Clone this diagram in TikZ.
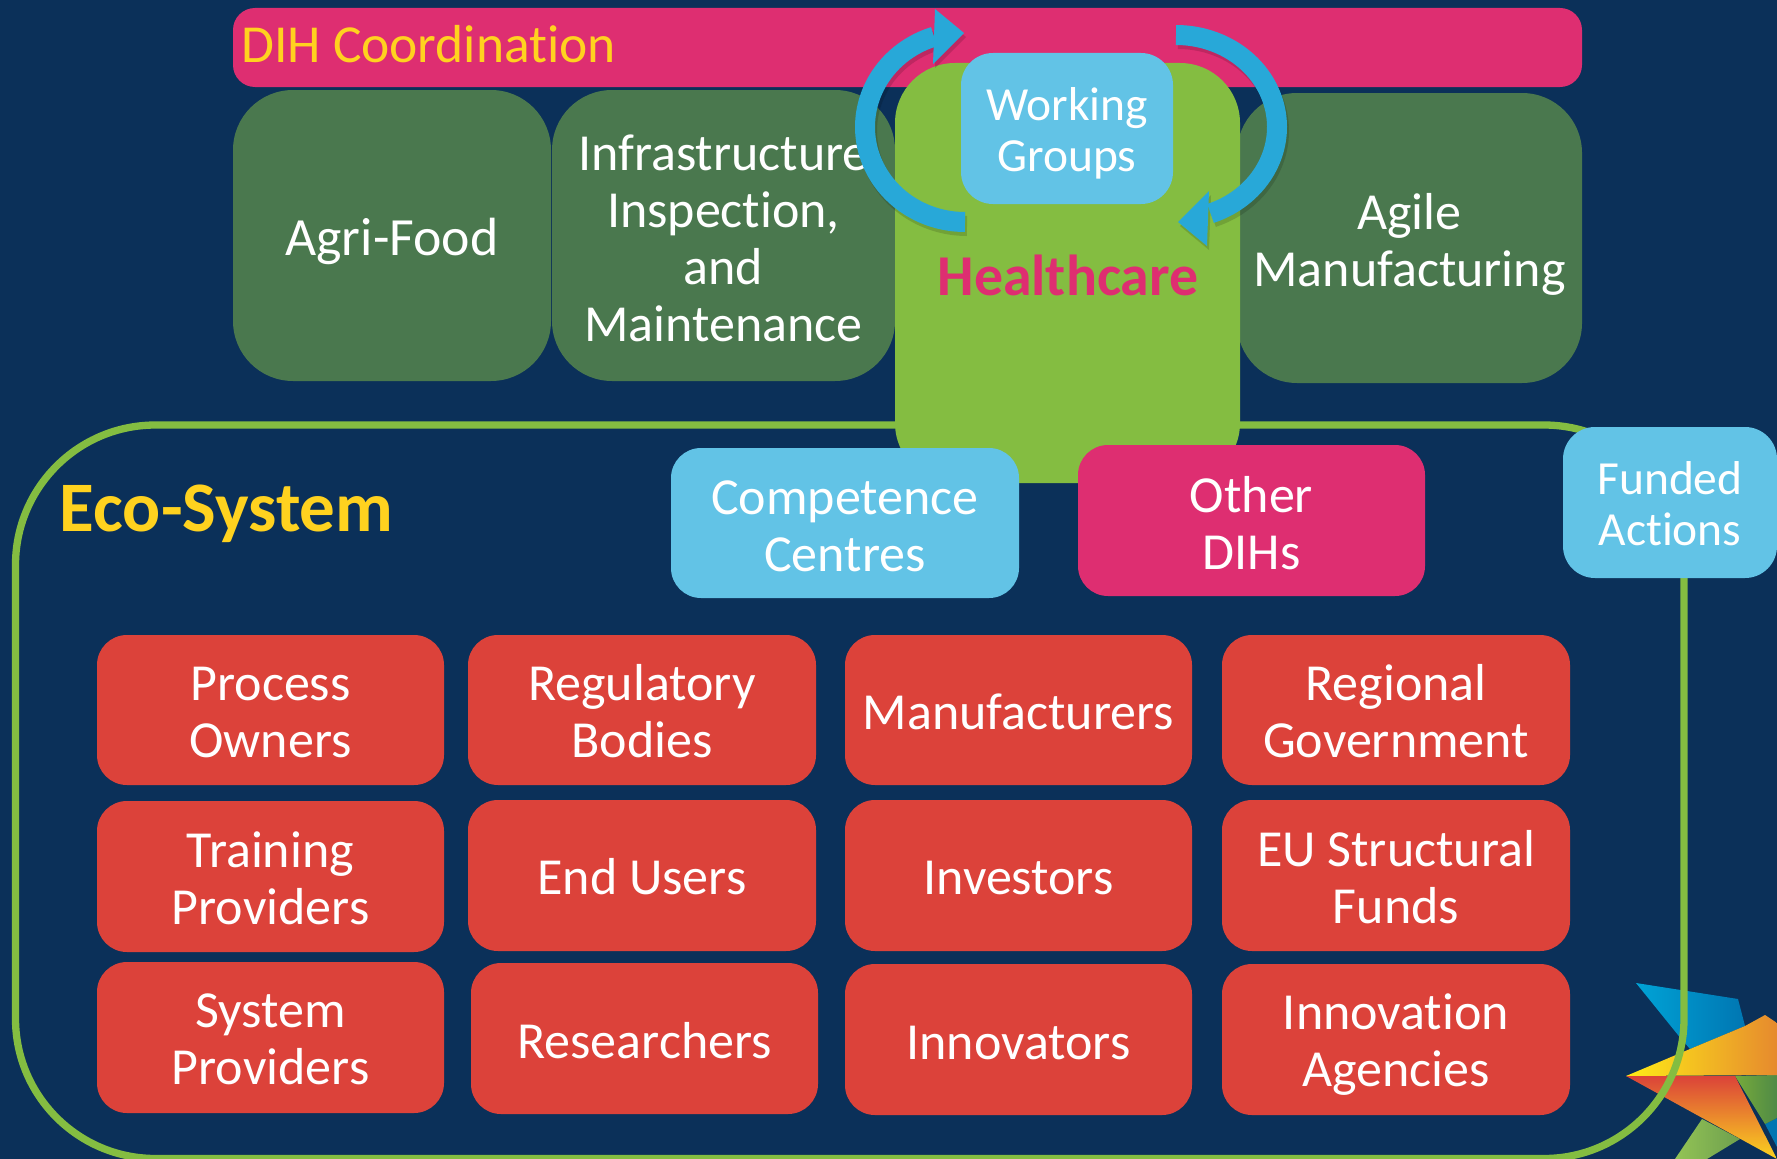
\documentclass[tikz,border=0pt]{standalone}
\usepackage{fontspec}
\setmainfont[Ligatures=NoCommon]{Carlito}
\definecolor{bgnavy}{HTML}{0B3059}
\definecolor{dihpink}{HTML}{DE2E71}
\definecolor{darkgreen}{HTML}{4A784E}
\definecolor{limegreen}{HTML}{84BD41}
\definecolor{skyblue}{HTML}{62C3E6}
\definecolor{boxred}{HTML}{DC423A}
\definecolor{arrowblue}{HTML}{28A8D8}
\definecolor{titleyellow}{HTML}{FFD21F}
\definecolor{logoblueA}{HTML}{00A3D6}
\definecolor{logoblueB}{HTML}{0076B2}
\definecolor{logoyellow}{HTML}{FFEC16}
\definecolor{logomid}{HTML}{F3BF28}
\definecolor{logoorange}{HTML}{E68A2E}
\definecolor{logored}{HTML}{DB4339}
\definecolor{logoredend}{HTML}{FBD31F}
\definecolor{logogreenA}{HTML}{93C455}
\definecolor{logogreenB}{HTML}{6E9F4E}
\definecolor{logogreenC}{HTML}{4F8A46}
\newcommand{\boxlabel}[3][3]{\node[boxtext] (#2text) at ([yshift=-#1 pt]#2.center) {#3};}
\tikzset{
  x=1pt,y=-1pt,
  boxtext/.style={inner sep=0pt,align=center,text=white,font=\fontsize{52}{57}\selectfont},
  basebox/.style={inner sep=0pt},
  sector/.style={basebox,fill=darkgreen,rounded corners=60pt},
  redbox/.style={basebox,fill=boxred,rounded corners=30pt},
  bluebox/.style={basebox,fill=skyblue,rounded corners=30pt},
  smallblue/.style={bluebox,rounded corners=32pt},
  pinkbox/.style={basebox,fill=dihpink,rounded corners=30pt},
  smalltext/.style={boxtext,font=\fontsize{47.5}{50.5}\selectfont},
  cyclearrow/.style={line width=20pt,draw=arrowblue},
  cyclehead/.style={fill=arrowblue},
  cycleshadow/.style={opacity=.14},
}
\newcommand{\sbx}[6]{%
  \pgfmathsetmacro{\bxw}{#4-#2}\pgfmathsetmacro{\bxh}{#5-#3}%
  \pgfmathsetmacro{\bxx}{(#2+#4)/2}\pgfmathsetmacro{\bxy}{(#3+#5)/2}%
  \node[#6,minimum width=\bxw pt,minimum height=\bxh pt] (#1) at (\bxx,\bxy) {};}
\begin{document}
\begin{tikzpicture}
\useasboundingbox (0,0) rectangle (1777,1158.6);
\fill[bgnavy] (-5,-5) rectangle (1785,1170);
% logo
\shade[left color=logoblueA,right color=logoblueB] (1636,983) -- (1738,999) -- (1745,1026) -- (1690,1049) -- (1678,1035) -- cycle;
\fill[logoblueB] (1765,1124) -- (1777,1118) -- (1777,1147) -- cycle;
\shade[left color=logogreenA,right color=logogreenB] (1702,1119) -- (1740,1139) -- (1707,1159) -- (1675,1159) -- cycle;
\shade[left color=limegreen!90!black,right color=logogreenC] (1735,1076) -- (1777,1075) -- (1777,1118) -- (1765,1124) -- cycle;
\shade[top color=logored,bottom color=logoredend] (1626,1076) -- (1735,1076) -- (1777,1159) -- cycle;
\shade[left color=logoyellow,middle color=logomid,right color=logoorange] (1626,1076) -- (1690,1049) -- (1745,1026) -- (1765,1015) -- (1777,1023) -- (1777,1075) -- cycle;
% eco-system ring
\draw[limegreen,line width=7.3pt,rounded corners=140pt] (15.5,425) rectangle (1684,1158.5);
% top band
\sbx{coord}{233}{8}{1582}{87}{pinkbox,rounded corners=22pt}
\node[anchor=west,inner sep=0pt,text=titleyellow,font=\fontsize{53.5}{57}\selectfont] (coordlabel) at (241,44.5) {DIH Coordination};
% sectors
\sbx{agri}{233}{90}{551}{381}{sector}
\node[boxtext,font=\fontsize{53.8}{57}\selectfont] (agritext) at ([yshift=-6pt]agri.center) {Agri-Food};
\sbx{infra}{552}{90}{895}{381}{sector}
\boxlabel[2.5]{infra}{Infrastructure\\Inspection,\\and\\Maintenance}
\sbx{agile}{1237}{93}{1582}{383}{sector}
\boxlabel[6.5]{agile}{Agile\\Manufacturing}
\sbx{health}{895}{63}{1240}{483}{sector,fill=limegreen}
\node[inner sep=0pt,text=dihpink,font=\fontsize{57.8}{60}\selectfont\bfseries] (healthlabel) at (1068,275) {Healthcare};
\sbx{wg}{961}{53}{1173}{204}{smallblue}
\node[smalltext] (wgtext) at ([yshift=-5pt]wg.center) {Working\\Groups};
% cycle arrows, shadow then arrow
\begin{scope}[cycleshadow,shift={(2,4)}]
  \draw[cyclearrow,draw=black] plot[domain=90:252,samples=50,smooth] ({965+100*cos(\x)},{127+95*sin(\x)});
  \fill[black] (935,9) -- (964,33) -- (933,64) -- cycle;
  \draw[cyclearrow,draw=black] plot[domain=-90:70,samples=50,smooth] ({1176+101*cos(\x)},{127+92*sin(\x)});
  \fill[black] (1209,191) -- (1178,222) -- (1207,246) -- cycle;
\end{scope}
\draw[cyclearrow] plot[domain=90:252,samples=50,smooth] ({965+100*cos(\x)},{127+95*sin(\x)});
\fill[cyclehead] (935,9) -- (964,33) -- (933,64) -- cycle;
\draw[cyclearrow] plot[domain=-90:70,samples=50,smooth] ({1176+101*cos(\x)},{127+92*sin(\x)});
\fill[cyclehead] (1209,191) -- (1178,222) -- (1207,246) -- cycle;
% eco-system
\node[inner sep=0pt,text=titleyellow,font=\fontsize{71}{76}\selectfont\bfseries] (ecolabel) at (226.5,514) {Eco-System};
\sbx{comp}{671}{448}{1019}{598}{bluebox}
\boxlabel{comp}{Competence\\Centres}
\sbx{other}{1078}{445}{1425}{596}{pinkbox}
\boxlabel[2.5]{other}{Other\\DIHs}
\sbx{funded}{1563}{427}{1777}{578}{smallblue}
\node[smalltext] (fundedtext) at ([yshift=-1pt]funded.center) {Funded\\Actions};
% red grid
\sbx{r11}{97}{635}{444}{785}{redbox}\boxlabel[2.5]{r11}{Process\\Owners}
\sbx{r12}{468}{635}{816}{785}{redbox}\boxlabel[1]{r12}{Regulatory\\Bodies}
\sbx{r13}{845}{635}{1192}{785}{redbox}\boxlabel[2]{r13}{Manufacturers}
\sbx{r14}{1222}{635}{1570}{785}{redbox}\boxlabel[1]{r14}{Regional\\Government}
\sbx{r21}{97}{801}{444}{952}{redbox}\boxlabel[2]{r21}{Training\\Providers}
\sbx{r22}{468}{800}{816}{951}{redbox}\boxlabel[1]{r22}{End Users}
\sbx{r23}{845}{800}{1192}{951}{redbox}\boxlabel[2]{r23}{Investors}
\sbx{r24}{1222}{800}{1570}{951}{redbox}\boxlabel[2]{r24}{EU Structural\\Funds}
\sbx{r31}{97}{962}{444}{1113}{redbox}\boxlabel[2]{r31}{System\\Providers}
\sbx{r32}{471}{963}{818}{1114}{redbox}\boxlabel[2]{r32}{Researchers}
\sbx{r33}{845}{964}{1192}{1115}{redbox}\boxlabel[3]{r33}{Innovators}
\sbx{r34}{1222}{964}{1570}{1115}{redbox}\boxlabel[5]{r34}{Innovation\\Agencies}
\end{tikzpicture}
\end{document}
